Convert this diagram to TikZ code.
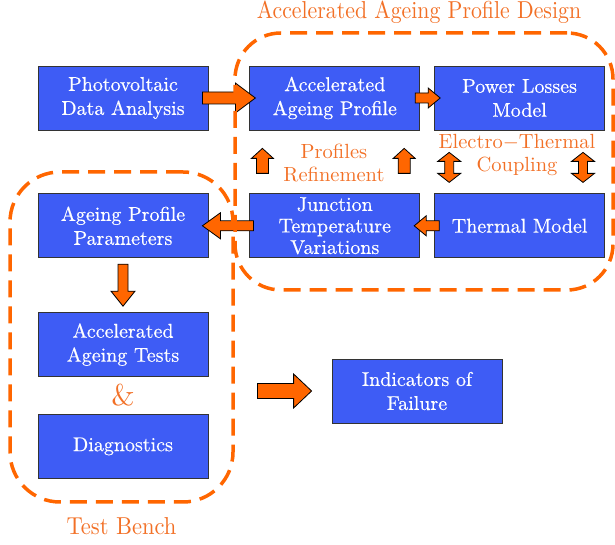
\documentclass[tikz,border=0pt]{standalone}
\usepackage{fontspec}
\usepackage{graphicx}
\usetikzlibrary{positioning,calc}
\newfontfamily\boxfont{lmroman10-regular.otf}[FakeBold=0.5]
\newfontfamily\notefont{lmroman10-regular.otf}
\definecolor{boxblue}{RGB}{62,92,245}
\definecolor{ageorange}{RGB}{255,102,0}
\definecolor{noteorange}{RGB}{242,112,38}
\tikzset{
box/.style={draw=black!80, line width=0.8pt, fill=boxblue, text=white, minimum width=170pt, minimum height=64pt, inner sep=0pt, align=center, font=\boxfont\fontsize{20}{24}\selectfont}, % the blue blocks
region/.style={draw=ageorange, line width=3.5pt, dash pattern=on 17pt off 9pt, inner sep=0pt}, % dashed groups
grouptitle/.style={text=noteorange, inner sep=0pt, font=\notefont\fontsize{24.5}{28}\selectfont},
note/.style={text=noteorange, align=center, inner sep=0pt, font=\notefont\fontsize{20.5}{23}\selectfont},
% block arrow: half shaft, half head, head length, gap at start, gap at end
fat/.style n args={5}{draw=black, line width=0.8pt, fill=ageorange, line join=miter,
  to path={
    ($(\tikztostart)!#4!(\tikztotarget)$) coordinate (fs)
    ($(\tikztotarget)!#5!(\tikztostart)$) coordinate (ft)
    ($(fs)!#1!90:(ft)$) -- ($(ft)!#3!(fs)!#1!90:(ft)$) -- ($(ft)!#3!(fs)!#2!90:(ft)$) -- (ft)
    -- ($(ft)!#3!(fs)!#2!-90:(ft)$) -- ($(ft)!#3!(fs)!#1!-90:(ft)$) -- ($(fs)!#1!-90:(ft)$) -- cycle}},
% same with a head at both ends
fatboth/.style n args={5}{draw=black, line width=0.8pt, fill=ageorange, line join=miter,
  to path={
    ($(\tikztostart)!#4!(\tikztotarget)$) coordinate (fs)
    ($(\tikztotarget)!#5!(\tikztostart)$) coordinate (ft)
    (fs) -- ($(fs)!#3!(ft)!#2!-90:(ft)$) -- ($(fs)!#3!(ft)!#1!-90:(ft)$)
    -- ($(ft)!#3!(fs)!#1!-90:(ft)$) -- ($(ft)!#3!(fs)!#2!-90:(ft)$) -- (ft)
    -- ($(ft)!#3!(fs)!#2!90:(ft)$) -- ($(ft)!#3!(fs)!#1!90:(ft)$)
    -- ($(fs)!#3!(ft)!#1!90:(ft)$) -- ($(fs)!#3!(ft)!#2!90:(ft)$) -- cycle}},
}
\begin{document}
\begin{tikzpicture}[x=1pt, y=1pt]
        \useasboundingbox (0,0) rectangle (615,545);

        \node[box] (pv) at (123,447) {Photovoltaic\\Data Analysis};
        \node[box, right=41pt of pv] (aap) {Accelerated\\Ageing Profile};
        \node[box, right=14pt of aap] (pl) {Power Losses\\Model};
        \node[box, below=63pt of pv] (app) {Ageing Profile\\Parameters};
        \node[box, below=63pt of aap, font=\boxfont\fontsize{20}{21.5}\selectfont] (jtv) {Junction\\Temperature\\Variations};
        \node[box, below=63pt of pl] (tm) {Thermal Model};
        \node[box, below=54pt of app] (aat) {Accelerated\\Ageing Tests};
        \node[box, below=37pt of aat] (diag) {Diagnostics};
        \node[box] (iof) at (417,154) {Indicators of\\Failure};

        \node[note] (refine) at (334,382) {Profiles\\Refinement};
        \node[note] (coupling) at (517,390) {Electro$-$Thermal\\Coupling};
        \node[text=noteorange, inner sep=0pt, font=\notefont\fontsize{30}{30}\selectfont] (and) at ($(aat.south)!0.5!(diag.north)$) {\&};

        \coordinate (rf1) at ([xshift=13pt]jtv.north west);
        \coordinate (rf2) at ([xshift=-16pt]jtv.north east);
        \coordinate (et1) at ([xshift=15pt]tm.north west);
        \coordinate (et2) at ([xshift=-22pt]tm.north east);

        \draw[fat={6pt}{15pt}{20pt}{-6pt}{-6pt}] (pv.east) to (aap.west);
        \draw[fat={5pt}{10pt}{12pt}{-5pt}{-6pt}] (aap.east) to (pl.west);
        \draw[fat={5pt}{10pt}{12pt}{-5pt}{-6pt}] (tm.west) to (jtv.east);
        \draw[fat={5pt}{13pt}{18pt}{-4pt}{-6pt}] (jtv.west) to (app.east);
        \draw[fat={5pt}{12pt}{15pt}{6pt}{6pt}] (app.south) to (aat.north);
        \draw[fat={7.5pt}{17pt}{18pt}{49pt}{20pt}] (aat.east |- iof.west) to (iof.west);
        \draw[fat={6pt}{11pt}{10pt}{20pt}{18pt}] (rf1) to (rf1 |- aap.south);
        \draw[fat={6pt}{11pt}{10pt}{20pt}{18pt}] (rf2) to (rf2 |- aap.south);
        \draw[fatboth={4.5pt}{11.5pt}{9pt}{11pt}{22pt}] (et1) to (et1 |- pl.south);
        \draw[fatboth={4.5pt}{11.5pt}{9pt}{11pt}{22pt}] (et2) to (et2 |- pl.south);

        \node[region, minimum width=378pt, minimum height=257pt, rounded corners=46pt] (design) at (424,383.5) {};
        \node[grouptitle, above=7pt of design, xshift=-5pt] (designtitle) {\scalebox{0.89}[1]{Accelerated Ageing Profile Design}};
        \node[region, minimum width=223pt, minimum height=330pt, rounded corners=50pt] (bench) at (121.5,208) {};
        \node[grouptitle, below=14pt of bench] (benchtitle) {\scalebox{0.92}[1]{Test Bench}};
\end{tikzpicture}
\end{document}
